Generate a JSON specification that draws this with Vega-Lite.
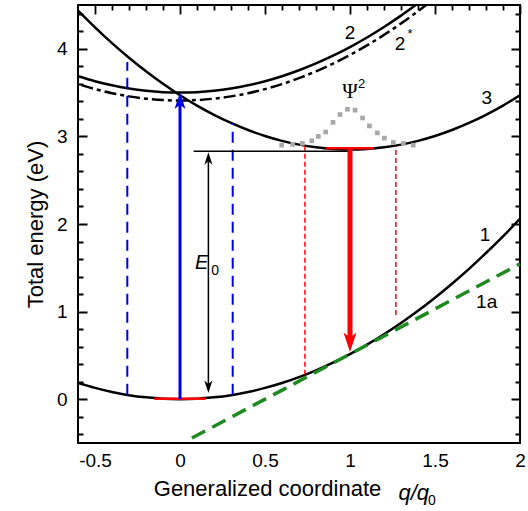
{
  "$schema": "https://vega.github.io/schema/vega-lite/v6.json",
  "width": 442,
  "height": 438,
  "autosize": {"type": "none"},
  "padding": {"left": 78, "top": 5, "right": 8, "bottom": 68},
  "config": {
    "view": {"stroke": "black", "strokeWidth": 2},
    "axis": {"grid": false, "domain": false, "ticks": false, "labelFont": "Liberation Sans", "labelFontSize": 19, "labelColor": "black", "titleFont": "Liberation Sans", "titleFontSize": 22, "titleFontWeight": "normal", "titleColor": "black", "labelFlush": false, "labelOverlap": false},
    "text": {"font": "Liberation Sans", "color": "black"}
  },
  "datasets": {
    "curves": [
      {"s": "1", "q": -0.6, "E": 0.185}, {"s": "1", "q": -0.5, "E": 0.129}, {"s": "1", "q": -0.4, "E": 0.082}, {"s": "1", "q": -0.3, "E": 0.046}, {"s": "1", "q": -0.2, "E": 0.021}, {"s": "1", "q": -0.1, "E": 0.005}, {"s": "1", "q": 0, "E": 0}, {"s": "1", "q": 0.1, "E": 0.005}, {"s": "1", "q": 0.2, "E": 0.021}, {"s": "1", "q": 0.3, "E": 0.046}, {"s": "1", "q": 0.4, "E": 0.082}, {"s": "1", "q": 0.5, "E": 0.129}, {"s": "1", "q": 0.6, "E": 0.185}, {"s": "1", "q": 0.7, "E": 0.252}, {"s": "1", "q": 0.8, "E": 0.33}, {"s": "1", "q": 0.9, "E": 0.417}, {"s": "1", "q": 1.0, "E": 0.515}, {"s": "1", "q": 1.1, "E": 0.623}, {"s": "1", "q": 1.2, "E": 0.742}, {"s": "1", "q": 1.3, "E": 0.87}, {"s": "1", "q": 1.4, "E": 1.009}, {"s": "1", "q": 1.5, "E": 1.159}, {"s": "1", "q": 1.6, "E": 1.318}, {"s": "1", "q": 1.7, "E": 1.488}, {"s": "1", "q": 1.8, "E": 1.669}, {"s": "1", "q": 1.9, "E": 1.859}, {"s": "1", "q": 2.0, "E": 2.06},
      {"s": "2", "q": -0.6, "E": 3.687}, {"s": "2", "q": -0.5, "E": 3.63}, {"s": "2", "q": -0.4, "E": 3.583}, {"s": "2", "q": -0.3, "E": 3.547}, {"s": "2", "q": -0.2, "E": 3.521}, {"s": "2", "q": -0.1, "E": 3.505}, {"s": "2", "q": 0, "E": 3.5}, {"s": "2", "q": 0.1, "E": 3.505}, {"s": "2", "q": 0.2, "E": 3.521}, {"s": "2", "q": 0.3, "E": 3.547}, {"s": "2", "q": 0.4, "E": 3.583}, {"s": "2", "q": 0.5, "E": 3.63}, {"s": "2", "q": 0.6, "E": 3.687}, {"s": "2", "q": 0.7, "E": 3.755}, {"s": "2", "q": 0.8, "E": 3.833}, {"s": "2", "q": 0.9, "E": 3.921}, {"s": "2", "q": 1.0, "E": 4.02}, {"s": "2", "q": 1.1, "E": 4.129}, {"s": "2", "q": 1.2, "E": 4.249}, {"s": "2", "q": 1.3, "E": 4.379}, {"s": "2", "q": 1.387, "E": 4.5},
      {"s": "2s", "q": -0.58, "E": 3.585}, {"s": "2s", "q": -0.5, "E": 3.54}, {"s": "2s", "q": -0.4, "E": 3.493}, {"s": "2s", "q": -0.3, "E": 3.457}, {"s": "2s", "q": -0.2, "E": 3.431}, {"s": "2s", "q": -0.1, "E": 3.415}, {"s": "2s", "q": 0, "E": 3.41}, {"s": "2s", "q": 0.1, "E": 3.415}, {"s": "2s", "q": 0.2, "E": 3.431}, {"s": "2s", "q": 0.3, "E": 3.457}, {"s": "2s", "q": 0.4, "E": 3.493}, {"s": "2s", "q": 0.5, "E": 3.54}, {"s": "2s", "q": 0.6, "E": 3.597}, {"s": "2s", "q": 0.7, "E": 3.665}, {"s": "2s", "q": 0.8, "E": 3.743}, {"s": "2s", "q": 0.9, "E": 3.831}, {"s": "2s", "q": 1.0, "E": 3.93}, {"s": "2s", "q": 1.1, "E": 4.039}, {"s": "2s", "q": 1.2, "E": 4.159}, {"s": "2s", "q": 1.3, "E": 4.289}, {"s": "2s", "q": 1.4, "E": 4.429}, {"s": "2s", "q": 1.448, "E": 4.5},
      {"s": "3", "q": -0.6, "E": 4.437}, {"s": "3", "q": -0.5, "E": 4.245}, {"s": "3", "q": -0.4, "E": 4.065}, {"s": "3", "q": -0.3, "E": 3.898}, {"s": "3", "q": -0.2, "E": 3.743}, {"s": "3", "q": -0.1, "E": 3.6}, {"s": "3", "q": 0, "E": 3.47}, {"s": "3", "q": 0.1, "E": 3.352}, {"s": "3", "q": 0.2, "E": 3.247}, {"s": "3", "q": 0.3, "E": 3.154}, {"s": "3", "q": 0.4, "E": 3.073}, {"s": "3", "q": 0.5, "E": 3.005}, {"s": "3", "q": 0.6, "E": 2.949}, {"s": "3", "q": 0.7, "E": 2.906}, {"s": "3", "q": 0.8, "E": 2.875}, {"s": "3", "q": 0.9, "E": 2.856}, {"s": "3", "q": 1.0, "E": 2.85}, {"s": "3", "q": 1.1, "E": 2.856}, {"s": "3", "q": 1.2, "E": 2.875}, {"s": "3", "q": 1.3, "E": 2.906}, {"s": "3", "q": 1.4, "E": 2.949}, {"s": "3", "q": 1.5, "E": 3.005}, {"s": "3", "q": 1.6, "E": 3.073}, {"s": "3", "q": 1.7, "E": 3.154}, {"s": "3", "q": 1.8, "E": 3.247}, {"s": "3", "q": 1.9, "E": 3.352}, {"s": "3", "q": 2.0, "E": 3.47},
      {"s": "1a", "q": 0.07, "E": -0.443}, {"s": "1a", "q": 2.0, "E": 1.545}
    ],
    "psi": [
      {"q": 0.598, "E": 2.9}, {"q": 0.663, "E": 2.91}, {"q": 0.72, "E": 2.92}, {"q": 0.775, "E": 2.95}, {"q": 0.814, "E": 3.0}, {"q": 0.857, "E": 3.05}, {"q": 0.9, "E": 3.16}, {"q": 0.941, "E": 3.25}, {"q": 0.985, "E": 3.31}, {"q": 1.03, "E": 3.3}, {"q": 1.074, "E": 3.21}, {"q": 1.114, "E": 3.12}, {"q": 1.161, "E": 3.04}, {"q": 1.202, "E": 2.98}, {"q": 1.255, "E": 2.93}, {"q": 1.314, "E": 2.92}, {"q": 1.372, "E": 2.9}
    ],
    "vsegs": [
      {"k": "blue", "q": 0, "E": 0, "E2": 3.38},
      {"k": "black", "q": 0.167, "E": 0.12, "E2": 2.76},
      {"k": "redarrow", "q": 1, "E": 2.865, "E2": 0.68},
      {"k": "bluedash", "q": -0.31, "E": 0.05, "E2": 3.85},
      {"k": "bluedash", "q": 0.31, "E": 0.05, "E2": 3.15},
      {"k": "reddot", "q": 0.735, "E": 0.28, "E2": 2.89},
      {"k": "reddot", "q": 1.27, "E": 0.96, "E2": 2.89}
    ],
    "hsegs": [
      {"k": "black", "q": 0.08, "q2": 1.0, "E": 2.83},
      {"k": "red", "q": 0.86, "q2": 1.14, "E": 2.865},
      {"k": "red", "q": -0.15, "q2": 0.15, "E": 0.005}
    ],
    "heads": [
      {"k": "blueUp", "q": 0, "E": 3.5},
      {"k": "blackUp", "q": 0.167, "E": 2.82},
      {"k": "blackDown", "q": 0.167, "E": 0.07},
      {"k": "redDown", "q": 1, "E": 0.54}
    ],
    "labels": [
      {"k": "main", "t": "2", "q": 1.0, "E": 4.18},
      {"k": "main", "t": "2", "q": 1.294, "E": 4.05},
      {"k": "main", "t": "3", "q": 1.804, "E": 3.44},
      {"k": "main", "t": "1", "q": 1.794, "E": 1.875},
      {"k": "main", "t": "1a", "q": 1.804, "E": 1.114},
      {"k": "sup", "t": "*", "q": 1.353, "E": 4.17},
      {"k": "sup", "t": "2", "q": 1.069, "E": 3.6},
      {"k": "psi", "t": "Ψ", "q": 1.0, "E": 3.51},
      {"k": "ital", "t": "E", "q": 0.128, "E": 1.55},
      {"k": "italt", "t": "q/q", "q": 1.375, "E": -1.075},
      {"k": "sub", "t": "0", "q": 0.206, "E": 1.46},
      {"k": "sub", "t": "0", "q": 1.482, "E": -1.16}
    ]
  },
  "layer": [
    {
      "data": {"name": "curves"},
      "transform": [{"filter": "datum.s === '1' || datum.s === '2' || datum.s === '3'"}],
      "mark": {"type": "line", "color": "black", "strokeWidth": 2.5, "clip": true, "interpolate": "monotone"},
      "encoding": {
        "x": {"field": "q", "type": "quantitative", "scale": {"domain": [-0.6, 2], "nice": false, "zero": false},
          "axis": {"orient": "bottom",
            "values": [-0.5, -0.4, -0.3, -0.2, -0.1, 0, 0.1, 0.2, 0.3, 0.4, 0.5, 0.6, 0.7, 0.8, 0.9, 1, 1.1, 1.2, 1.3, 1.4, 1.5, 1.6, 1.7, 1.8, 1.9, 2],
            "tickCount": 200,
            "format": "~g",
            "labelExpr": "abs(datum.value * 2 - round(datum.value * 2)) < 0.001 ? replace(datum.label, '\u2212', '-') : ''",
            "labelPadding": 8,
            "ticks": false, "domain": false,
            "grid": true, "gridColor": "black", "gridWidth": 1.8, "gridOpacity": 1,
            "gridDash": {"condition": {"test": "abs(datum.value * 2 - round(datum.value * 2)) < 0.001", "value": [9, 1000]}, "value": [5, 1000]},
            "title": "Generalized coordinate", "titleX": 189, "titlePadding": 8}},
        "y": {"field": "E", "type": "quantitative", "scale": {"domain": [-0.5, 4.5], "nice": false, "zero": false},
          "axis": {"orient": "left",
            "values": [-0.4, -0.2, 0, 0.2, 0.4, 0.6, 0.8, 1, 1.2, 1.4, 1.6, 1.8, 2, 2.2, 2.4, 2.6, 2.8, 3, 3.2, 3.4, 3.6, 3.8, 4, 4.2, 4.4],
            "tickCount": 200,
            "format": "~g",
            "labelExpr": "abs(datum.value - round(datum.value)) < 0.001 ? datum.label : ''",
            "labelPadding": 11,
            "ticks": false, "domain": false,
            "grid": true, "gridColor": "black", "gridWidth": 1.8, "gridOpacity": 1,
            "gridDash": {"condition": {"test": "abs(datum.value - round(datum.value)) < 0.001", "value": [9, 424, 9, 1000]}, "value": [5, 432, 5, 1000]},
            "title": "Total energy (eV)", "titlePadding": 9}},
        "detail": {"field": "s"}
      }
    },
    {
      "data": {"name": "curves"},
      "transform": [{"filter": "datum.s === '2s'"}],
      "mark": {"type": "line", "color": "black", "strokeWidth": 2.5, "strokeDash": [12, 4, 4, 4], "clip": true, "interpolate": "monotone"},
      "encoding": {"x": {"field": "q", "type": "quantitative"}, "y": {"field": "E", "type": "quantitative"}}
    },
    {
      "data": {"name": "curves"},
      "transform": [{"filter": "datum.s === '1a'"}],
      "mark": {"type": "line", "color": "#1f8a1f", "strokeWidth": 3.5, "strokeDash": [15, 8]},
      "encoding": {"x": {"field": "q", "type": "quantitative"}, "y": {"field": "E", "type": "quantitative"}}
    },
    {
      "data": {"name": "psi"},
      "mark": {"type": "point", "shape": "square", "filled": true, "color": "#a8a8a8", "opacity": 1, "size": 22},
      "encoding": {"x": {"field": "q", "type": "quantitative"}, "y": {"field": "E", "type": "quantitative"}}
    },
    {
      "data": {"name": "vsegs"},
      "transform": [{"filter": "datum.k === 'reddot'"}],
      "mark": {"type": "rule", "color": "#ff0000", "strokeWidth": 1.5, "strokeDash": [5, 3]},
      "encoding": {"x": {"field": "q", "type": "quantitative"}, "y": {"field": "E", "type": "quantitative"}, "y2": {"field": "E2"}}
    },
    {
      "data": {"name": "vsegs"},
      "transform": [{"filter": "datum.k === 'bluedash'"}],
      "mark": {"type": "rule", "color": "#0000e6", "strokeWidth": 2, "strokeDash": [11, 7]},
      "encoding": {"x": {"field": "q", "type": "quantitative"}, "y": {"field": "E", "type": "quantitative"}, "y2": {"field": "E2"}}
    },
    {
      "data": {"name": "hsegs"},
      "transform": [{"filter": "datum.k === 'black'"}],
      "mark": {"type": "rule", "color": "black", "strokeWidth": 1.5},
      "encoding": {"x": {"field": "q", "type": "quantitative"}, "x2": {"field": "q2"}, "y": {"field": "E", "type": "quantitative"}}
    },
    {
      "data": {"name": "hsegs"},
      "transform": [{"filter": "datum.k === 'red'"}],
      "mark": {"type": "rule", "color": "#ff0000", "strokeWidth": 2.5},
      "encoding": {"x": {"field": "q", "type": "quantitative"}, "x2": {"field": "q2"}, "y": {"field": "E", "type": "quantitative"}}
    },
    {
      "data": {"name": "vsegs"},
      "transform": [{"filter": "datum.k === 'blue'"}],
      "mark": {"type": "rule", "color": "#0000e6", "strokeWidth": 3},
      "encoding": {"x": {"field": "q", "type": "quantitative"}, "y": {"field": "E", "type": "quantitative"}, "y2": {"field": "E2"}}
    },
    {
      "data": {"name": "vsegs"},
      "transform": [{"filter": "datum.k === 'black'"}],
      "mark": {"type": "rule", "color": "black", "strokeWidth": 1.5},
      "encoding": {"x": {"field": "q", "type": "quantitative"}, "y": {"field": "E", "type": "quantitative"}, "y2": {"field": "E2"}}
    },
    {
      "data": {"name": "vsegs"},
      "transform": [{"filter": "datum.k === 'redarrow'"}],
      "mark": {"type": "rule", "color": "#ff0000", "strokeWidth": 5},
      "encoding": {"x": {"field": "q", "type": "quantitative"}, "y": {"field": "E", "type": "quantitative"}, "y2": {"field": "E2"}}
    },
    {
      "data": {"name": "heads"},
      "transform": [{"filter": "datum.k === 'blueUp'"}],
      "mark": {"type": "point", "shape": "M0,0 L0.5,1.5 L0,1.1 L-0.5,1.5 Z", "filled": true, "color": "#0000e6", "opacity": 1, "size": 484},
      "encoding": {"x": {"field": "q", "type": "quantitative"}, "y": {"field": "E", "type": "quantitative"}}
    },
    {
      "data": {"name": "heads"},
      "transform": [{"filter": "datum.k === 'blackUp'"}],
      "mark": {"type": "point", "shape": "M0,0 L0.45,1.4 L0,1.0 L-0.45,1.4 Z", "filled": true, "color": "black", "opacity": 1, "size": 324},
      "encoding": {"x": {"field": "q", "type": "quantitative"}, "y": {"field": "E", "type": "quantitative"}}
    },
    {
      "data": {"name": "heads"},
      "transform": [{"filter": "datum.k === 'blackDown'"}],
      "mark": {"type": "point", "shape": "M0,0 L0.45,-1.4 L0,-1.0 L-0.45,-1.4 Z", "filled": true, "color": "black", "opacity": 1, "size": 324},
      "encoding": {"x": {"field": "q", "type": "quantitative"}, "y": {"field": "E", "type": "quantitative"}}
    },
    {
      "data": {"name": "heads"},
      "transform": [{"filter": "datum.k === 'redDown'"}],
      "mark": {"type": "point", "shape": "M0,0 L0.5,-1.5 L0,-1.1 L-0.5,-1.5 Z", "filled": true, "color": "#ff0000", "opacity": 1, "size": 676},
      "encoding": {"x": {"field": "q", "type": "quantitative"}, "y": {"field": "E", "type": "quantitative"}}
    },
    {
      "data": {"name": "labels"},
      "transform": [{"filter": "datum.k === 'main'"}],
      "mark": {"type": "text", "fontSize": 19, "align": "center", "baseline": "middle"},
      "encoding": {"x": {"field": "q", "type": "quantitative"}, "y": {"field": "E", "type": "quantitative"}, "text": {"field": "t"}}
    },
    {
      "data": {"name": "labels"},
      "transform": [{"filter": "datum.k === 'sup'"}],
      "mark": {"type": "text", "fontSize": 13, "align": "center", "baseline": "middle"},
      "encoding": {"x": {"field": "q", "type": "quantitative"}, "y": {"field": "E", "type": "quantitative"}, "text": {"field": "t"}}
    },
    {
      "data": {"name": "labels"},
      "transform": [{"filter": "datum.k === 'psi'"}],
      "mark": {"type": "text", "font": "Liberation Serif", "fontSize": 21, "align": "center", "baseline": "middle"},
      "encoding": {"x": {"field": "q", "type": "quantitative"}, "y": {"field": "E", "type": "quantitative"}, "text": {"field": "t"}}
    },
    {
      "data": {"name": "labels"},
      "transform": [{"filter": "datum.k === 'ital'"}],
      "mark": {"type": "text", "fontSize": 20, "fontStyle": "italic", "align": "center", "baseline": "middle"},
      "encoding": {"x": {"field": "q", "type": "quantitative"}, "y": {"field": "E", "type": "quantitative"}, "text": {"field": "t"}}
    },
    {
      "data": {"name": "labels"},
      "transform": [{"filter": "datum.k === 'italt'"}],
      "mark": {"type": "text", "fontSize": 22, "fontStyle": "italic", "align": "center", "baseline": "middle"},
      "encoding": {"x": {"field": "q", "type": "quantitative"}, "y": {"field": "E", "type": "quantitative"}, "text": {"field": "t"}}
    },
    {
      "data": {"name": "labels"},
      "transform": [{"filter": "datum.k === 'sub'"}],
      "mark": {"type": "text", "fontSize": 14, "align": "center", "baseline": "middle"},
      "encoding": {"x": {"field": "q", "type": "quantitative"}, "y": {"field": "E", "type": "quantitative"}, "text": {"field": "t"}}
    }
  ]
}
